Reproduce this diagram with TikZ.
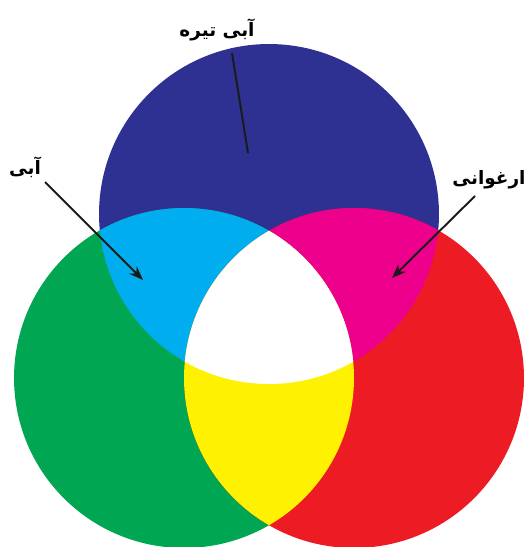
\documentclass[tikz,border=0pt]{standalone}
\usepackage{fontspec}
\newfontfamily\farsifont[Script=Arabic]{DejaVu Sans}
\TeXXeTstate=1
\usetikzlibrary{arrows.meta, positioning}
\definecolor{mixdarkblue}{HTML}{2E3192}
\definecolor{mixcyan}{HTML}{00AEEF}
\definecolor{mixmagenta}{HTML}{EC008C}
\definecolor{mixgreen}{HTML}{00A651}
\definecolor{mixred}{HTML}{ED1C24}
\definecolor{mixyellow}{HTML}{FFF200}
\definecolor{mixblack}{HTML}{1A1A1A}

\begin{document}
\begin{tikzpicture}[x=0.02cm, y=-0.02cm,
      lbl/.style={font=\farsifont\bfseries\fontsize{10.5}{13}\selectfont, inner sep=1pt},
      arr/.style={-{Stealth[length=8pt, width=6pt]}, line width=1.1pt, mixblack},
      pointer/.style={line width=1.1pt, mixblack}
    ]
      \useasboundingbox (0,0) rectangle (528,547);
      % centres of the three discs
      \coordinate (T) at (269,214);
      \coordinate (L) at (184,378);
      \coordinate (R) at (354,378);
      \def\rad{3.4cm}

      \fill[mixdarkblue] (T) circle (\rad);
      \fill[mixgreen] (L) circle (\rad);
      \fill[mixred] (R) circle (\rad);
      % overlaps
      \begin{scope}
        \clip (T) circle (\rad);
        \fill[mixcyan] (L) circle (\rad);
        \fill[mixmagenta] (R) circle (\rad);
      \end{scope}
      \begin{scope}
        \clip (L) circle (\rad);
        \fill[mixyellow] (R) circle (\rad);
        \clip (R) circle (\rad);
        \fill[white] (T) circle (\rad);
      \end{scope}

      \node[lbl] (darkblue) at (217,30) {\beginR آبی تیره\endR};
      \node[lbl] (blue) at (25,167) {\beginR آبی\endR};
      \node[lbl] (magenta) at (489,180) {\beginR ارغوانی\endR};

      \coordinate (darkblueTip) at (248,153);
      \coordinate (blueTip) at (143,280);
      \coordinate (magentaTip) at (392,278);

      \draw[pointer] ([shift={(15,23)}]darkblue.center) -- (darkblueTip);
      \draw[arr] ([shift={(20,15)}]blue.center) -- (blueTip);
      \draw[arr] ([shift={(-14,16)}]magenta.center) -- (magentaTip);
    \end{tikzpicture}
\end{document}
